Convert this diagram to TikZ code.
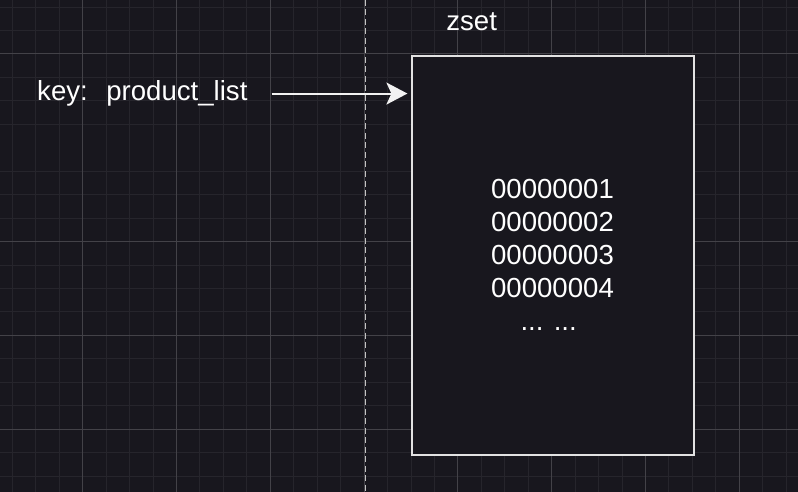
\documentclass[tikz,border=0pt]{standalone}
\usepackage{fontspec}
\setmainfont{Liberation Sans}
\usetikzlibrary{arrows.meta}
\definecolor{bgc}{HTML}{18171E}
\definecolor{gridminor}{HTML}{26252C}
\definecolor{gridmajor}{HTML}{434248}
\definecolor{boxline}{HTML}{E2E2E2}
\definecolor{dashc}{HTML}{C4C4C4}
\definecolor{arrowc}{HTML}{F2F2F2}
\begin{document}
\begin{tikzpicture}[x=1pt,y=-1pt,
  lbl/.style={text=white, inner sep=0pt, font=\fontsize{27.6}{33.1}\selectfont},
  minorline/.style={draw=gridminor, line width=1pt},
  majorline/.style={draw=gridmajor, line width=1pt},
  zsetbox/.style={draw=boxline, line width=2pt, fill=bgc, inner sep=0pt},
  divider/.style={draw=dashc, line width=1.2pt, dash pattern=on 6pt off 3.5pt},
  keyarrow/.style={draw=arrowc, line width=2pt, -{Stealth[length=21pt,width=22pt,inset=5pt]}}]
\fill[bgc] (0,0) rectangle (798,492);
\useasboundingbox (0,0) rectangle (798,492);
% grid
\foreach \k in {0,...,33} \draw[minorline] ({12.35+23.45*\k},0) -- ++(0,492);
\foreach \yy in {7.1,30.55,54,77.45,100.9,124.35,171.25,194.7,218.15,241.6,265.05,288.5,311.95,335.4,358.85,382.3,405.75,429.2,452.65,476.1}
  \draw[minorline] (0,\yy) -- ++(798,0);
\foreach \xx in {82.7,176.5,270.3,364.1,457.9,551.7,645.5,739.3} \draw[majorline] (\xx,0) -- ++(0,492);
\foreach \yy in {54,241.6,335.4,429.2} \draw[majorline] (0,\yy) -- ++(798,0);
% divider
\coordinate (dtop) at (365.5,0);
\coordinate (dbot) at (365.5,492);
\draw[divider] (dtop) -- (dbot);
% zset box
\node[zsetbox, minimum width=282pt, minimum height=398pt] (box) at (553.4,255.5) {};
\node[lbl, anchor=base] (title) at (471.7,30.7) {zset};
\node[lbl, align=center, anchor=north] (members) at (552.5,178.7)
  {00000001\\00000002\\00000003\\00000004\\... ...\hphantom{.}};
% key
\node[lbl, anchor=base west] (key) at (37,100.7) {key:\hspace{18.5pt}product\_list};
\draw[keyarrow, shorten <=24pt, shorten >=4pt] (key.east) -- (key.east -| box.west);
\end{tikzpicture}
\end{document}
